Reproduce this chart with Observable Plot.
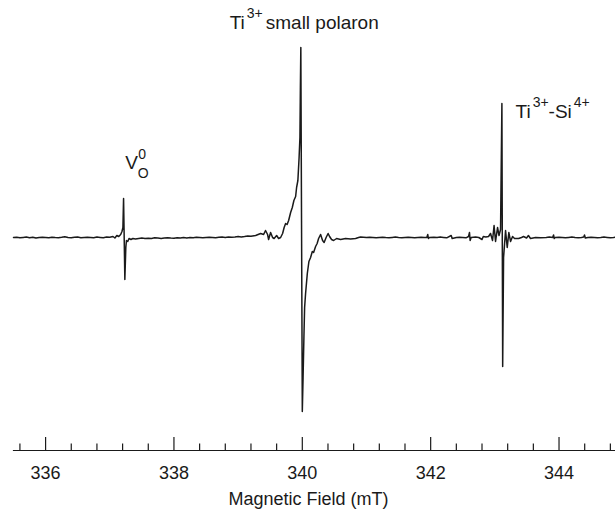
<!DOCTYPE html>
<html><head><meta charset="utf-8">
<script src="https://cdn.jsdelivr.net/npm/d3@7"></script>
<script src="https://cdn.jsdelivr.net/npm/@observablehq/plot@0.6"></script>
<style>
body{margin:0;background:#fff}
svg{font-family:"Liberation Sans",Arial,Helvetica,sans-serif}
</style>
</head><body><div id="chart"></div>
<script>
// magnetic field (mT)
const field = [
335.50,335.55,335.60,335.65,335.70,335.75,335.80,335.85,335.90,335.95,
336.00,336.05,336.10,336.15,336.20,336.25,336.30,336.35,336.40,336.45,
336.50,336.55,336.60,336.65,336.70,336.75,336.80,336.85,336.90,336.95,
337.00,337.05,337.08,337.11,337.14,337.17,337.19,337.205,337.215,337.235,
337.25,337.26,337.28,337.30,337.33,337.36,337.40,337.45,337.50,337.55,
337.60,337.65,337.70,337.75,337.80,337.85,337.90,337.95,338.00,338.05,
338.10,338.15,338.20,338.25,338.30,338.35,338.40,338.45,338.50,338.55,
338.60,338.65,338.70,338.75,338.80,338.85,338.90,338.95,339.00,339.05,
339.10,339.15,339.20,339.273,339.350,339.397,339.427,339.459,339.475,339.506,
339.537,339.561,339.600,339.631,339.662,339.693,339.717,339.740,339.763,339.787,
339.818,339.844,339.869,339.896,339.911,339.931,339.950,339.963,339.970,339.977,
340.000,340.012,340.025,340.036,340.051,340.078,340.103,340.129,340.156,340.176,
340.207,340.231,340.254,340.285,340.316,340.340,340.371,340.402,340.425,340.456,
340.488,340.534,340.597,340.674,340.752,340.830,340.877,340.908,341.00,341.05,
341.10,341.15,341.20,341.25,341.30,341.35,341.40,341.45,341.50,341.55,
341.60,341.65,341.70,341.75,341.80,341.85,341.90,341.94,341.955,341.965,
341.98,342.05,342.10,342.15,342.20,342.25,342.32,342.335,342.40,342.45,
342.50,342.55,342.59,342.605,342.615,342.63,342.70,342.75,342.80,342.82,
342.86,342.902,342.933,342.964,342.988,343.011,343.042,343.065,343.089,343.110,
343.122,343.136,343.167,343.193,343.218,343.245,343.276,343.307,343.369,343.416,
343.447,343.494,343.523,343.556,343.634,343.712,343.80,343.85,343.90,343.915,
343.925,343.94,344.00,344.05,344.10,344.15,344.20,344.25,344.30,344.35,
344.385,344.397,344.41,344.45,344.50,344.55,344.60,344.65,344.70,344.75,
344.80,344.85,344.88
];
// EPR derivative signal (arb. units)
const signal = [
0,0.3,-0.2,0.1,0.4,-0.3,0.2,-0.6,0,0.3,
0.1,-0.3,0.3,0,-0.2,0.2,0.7,0.1,-0.3,0.2,
0.4,-0.2,0.1,0.3,0,-0.3,0.4,0.1,-0.2,0.4,
0.3,1,-0.5,2,1,3,6,10,39,-42,
-10,-3,-4,-1,-2,-1,-1.5,-1,-0.6,-1,
-0.7,-1,-0.3,-0.6,-0.9,-0.5,-0.2,-0.6,-0.8,-0.2,
-0.5,-0.1,-0.4,0,-0.3,0.3,0,-0.3,0.1,0.3,
0.1,-0.2,0.2,0.4,0.1,0.4,0.2,0.5,0.9,0.6,
1,1.5,1.2,2,4,3,7,3,-2,5,
0,-1,2,-1,0,4,10,14,13,17,
25,30,37,41,50,57,80,100,150,190,
-174,-140,-100,-70,-56,-36,-24,-20,-14,-15,
-9,-6,-1,3,-3,-5,0,4,1,-2,
-3,-1,-2,-1,-1.5,-1,0,0.5,0.1,0.3,
0,-0.3,0.1,0.3,0,-0.2,0.1,0.4,0,-0.3,
0.1,0.3,0,-0.3,0.1,0.3,0,0,3,-1,
0,0.3,0,0.4,0.1,-0.3,2,-1,0,0.3,
0.1,-0.3,1,5,-3,0,0.4,0,-2,1,
0.5,1,4,-3,12,-4,10,2,8,134,
-129,-20,7,-10,5,-4,1,-1,-1,0,
1,-0.5,2,-1,0,-0.3,0.1,0.4,0,2.5,
-1,0,0.3,0,-0.3,0.1,0.4,0,-0.3,0.1,
0.5,2.5,-0.5,0,0.3,0.1,-0.3,0,0.4,0.1,
-0.3,0,0.3
];
const majorTicks = [336, 338, 340, 342, 344];
const minorTicks = [335.6,336.4,336.8,337.2,337.6,338.4,338.8,339.2,339.6,340.4,340.8,341.2,341.6,342.4,342.8,343.2,343.6,344.4,344.8];
const axisTitle = ["Magnetic Field (mT)"];
// annotations
const labelKeys = ["VO0", "Ti3+ small polaron", "Ti3+-Si4+"];
const labelField = [337.24, 338.868, 343.322];
const labelSignal = [69, 209, 120];

const spectrum = field.map((f, i) => ({field: f, signal: signal[i]}));
const labels = labelKeys.map((k, i) => ({key: k, field: labelField[i], signal: labelSignal[i]}));

const ink = "#1a1a1a";
const chart = Plot.plot({
  width: 615,
  height: 515,
  marginLeft: 13,
  marginRight: 0,
  marginTop: 0,
  marginBottom: 65,
  style: {fontFamily: '"Liberation Sans", Arial, sans-serif', color: ink, background: "#fff"},
  x: {domain: [335.5, 344.88]},
  y: {domain: [-213, 237], axis: null},
  marks: [
    Plot.frame({anchor: "bottom", stroke: ink, strokeWidth: 1.2}),
    Plot.ruleX(majorTicks, {stroke: ink, strokeWidth: 1.2, insetTop: 437}),
    Plot.ruleX(minorTicks, {stroke: ink, strokeWidth: 1.2, insetTop: 443.5}),
    Plot.axisX({ticks: majorTicks, tickSize: 0, tickPadding: 16, fontSize: 18, tickFormat: d => String(d), label: null}),
    Plot.text(axisTitle, {frameAnchor: "bottom", dx: -6, dy: 54, fontSize: 18, fill: ink}),
    Plot.line(spectrum, {x: "field", y: "signal", stroke: ink, strokeWidth: 1.5, curve: "linear"}),
    Plot.text(labels, {x: "field", y: "signal", text: "key", textAnchor: "start", lineAnchor: "bottom", fontSize: 19, fill: ink, className: "annot"})
  ]
});
document.getElementById("chart").appendChild(chart);

// superscript / subscript formatting of the annotations
const markup = {
  "VO0": [["V", {}], ["0", {dx: 0.5, dy: -10, size: 14}], ["O", {dx: -8.5, dy: 19, size: 14}]],
  "Ti3+ small polaron": [["Ti", {}], ["3+", {dx: 2, dy: -11, size: 14}], ["small polaron", {dx: 3, dy: 11}]],
  "Ti3+-Si4+": [["Ti", {}], ["3+", {dx: 2, dy: -11, size: 14}], ["-Si", {dy: 11}], ["4+", {dx: 2, dy: -11, size: 14}]]
};
d3.select(chart).selectAll("g.annot text").each(function() {
  const t = d3.select(this);
  const key = t.text();
  const parts = markup[key];
  if (!parts) return;
  t.text(null);
  for (const [s, o] of parts) {
    const sp = t.append("tspan").text(s);
    if (o.dx) sp.attr("dx", o.dx);
    if (o.dy) sp.attr("dy", o.dy);
    if (o.size) sp.attr("font-size", o.size);
  }
});
</script>
</body></html>
